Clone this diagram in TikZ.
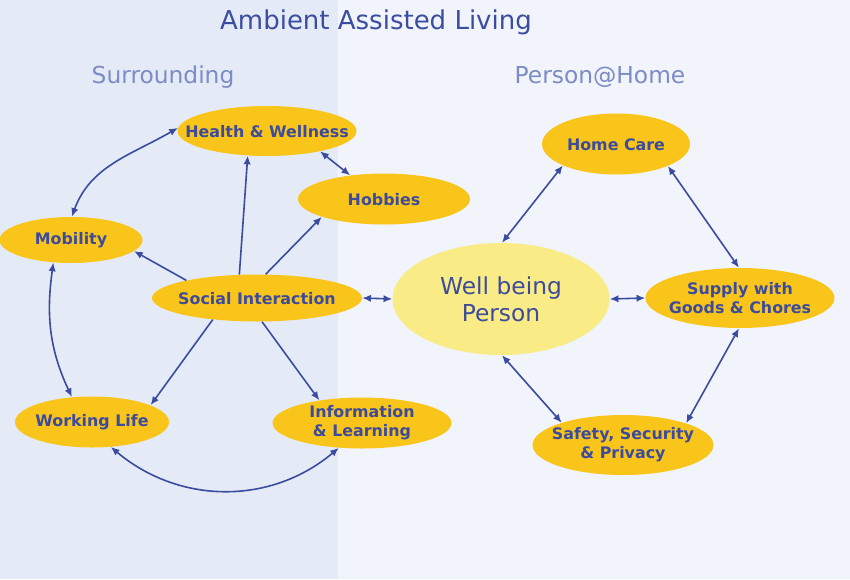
\documentclass[tikz,border=0pt]{standalone}
\usepackage{fontspec}
\setmainfont{DejaVu Sans}
\usetikzlibrary{shapes.geometric,arrows.meta}
\definecolor{bgL}{HTML}{E5EBF6}
\definecolor{bgR}{HTML}{F1F4FA}
\definecolor{nodeY}{HTML}{F9C51B}
\definecolor{wellY}{HTML}{F9EB86}
\definecolor{txtB}{HTML}{3C4B9B}
\definecolor{titB}{HTML}{3B4DA0}
\definecolor{subB}{HTML}{7B8CC6}
\definecolor{arrB}{HTML}{3A4CA0}
\tikzset{
  ell/.style 2 args={ellipse, fill=nodeY, inner sep=0pt,
    minimum width=#1*0.75pt, minimum height=#2*0.75pt},
  lbl/.style={align=center, inner sep=0pt, text=txtB,
    font=\fontsize{11.9pt}{14pt}\selectfont\bfseries},
  conn/.style={draw=arrB, line width=1.2pt, -{Latex[length=6.5pt,width=5.5pt]}},
  both/.style={conn, {Latex[length=6.5pt,width=5.5pt]}-{Latex[length=6.5pt,width=5.5pt]}},
}
\begin{document}
\begin{tikzpicture}[x=0.75pt,y=-0.75pt]
\fill[bgR] (0,0) rectangle (850,579);
\fill[bgL] (0,0) rectangle (338,579);
\useasboundingbox (0,0) rectangle (850,579);

\node[text=titB, font=\fontsize{19.5pt}{22pt}\selectfont] (title) at (376,22) {Ambient Assisted Living};
\node[text=subB, font=\fontsize{17.5pt}{20pt}\selectfont] (surr) at (163,77) {Surrounding};
\node[text=subB, font=\fontsize{17.5pt}{20pt}\selectfont] (ph) at (600,77) {Person@Home};

\node[ell={179}{50}] (health) at (267,131) {};
\node[ell={172}{51}] (hobbies) at (384,199) {};
\node[ell={143}{46}] (mob) at (71,240) {};
\node[ell={210}{47}] (soc) at (257,298) {};
\node[ell={154}{51}] (work) at (92,422) {};
\node[ell={179}{51}] (info) at (362,423) {};
\node[ell={217}{112}, fill=wellY] (well) at (501,299) {};
\node[ell={148}{61}] (home) at (616,144) {};
\node[ell={189}{60}] (supply) at (740,298) {};
\node[ell={181}{60}] (safety) at (623,445) {};

\node[lbl] (healthT) at ([yshift=-0.5pt]health) {Health \& Wellness};
\node[lbl] (hobbiesT) at ([yshift=-0.5pt]hobbies) {Hobbies};
\node[lbl] (mobT) at ([yshift=-0.5pt]mob) {Mobility};
\node[lbl] (socT) at ([yshift=-0.5pt]soc) {Social Interaction};
\node[lbl] (workT) at ([yshift=-0.5pt]work) {Working Life};
\node[lbl] (infoT) at (info) {Information\\\& Learning};
\node[lbl, font=\fontsize{17.5pt}{20pt}\selectfont] (wellT) at (well) {Well being\\Person};
\node[lbl] (homeT) at ([yshift=-0.5pt]home) {Home Care};
\node[lbl] (supplyT) at (supply) {Supply with\\Goods \& Chores};
\node[lbl] (safetyT) at (safety) {Safety, Security\\\& Privacy};

% left side
\draw[both] (mob.88) to[out=70,in=210] (health.178);
\draw[both] (health.-21) -- (hobbies.145.6);
\draw[conn] (soc.127.7) -- (health.232);
\draw[conn] (soc.70) -- (hobbies.196.4);
\draw[conn] (soc.166) -- (mob.-10);
\draw[both] (mob.232) to[out=262,in=115] (work.129);
\draw[conn] (soc.206.6) -- (work.16);
\draw[conn] (soc.-78) -- (info.152.4);
\draw[both] (work.-53) to[out=-40,in=-140] (info.227.5);
\draw[both] (soc.east) -- (well.west);

% right side
\draw[both] (well.89) -- (home.202.5);
\draw[both] (home.-23) -- (supply.92);
\draw[both] (well.east) -- (supply.west);
\draw[both] (well.-89) -- (safety.160);
\draw[both] (supply.-92) -- (safety.19);
\end{tikzpicture}
\end{document}
